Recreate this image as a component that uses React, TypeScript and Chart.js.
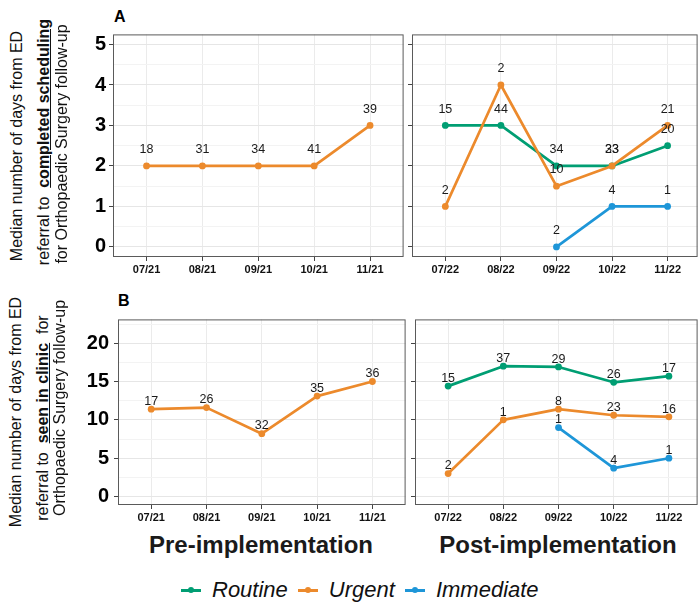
import React, { useEffect, useRef } from "react";
import { Chart, registerables } from "chart.js";
Chart.register(...registerables);

const FONT = '"Liberation Sans", Arial, Helvetica, sans-serif';

const preMonths = ["07/21", "08/21", "09/21", "10/21", "11/21"];
const postMonths = ["07/22", "08/22", "09/22", "10/22", "11/22"];

const seriesNames = ["Routine", "Urgent", "Immediate"];
const seriesColors = ["#009E73", "#EC8A2C", "#1E96D8"];

// Panel A: completed scheduling (median days)
const schedPreUrgent = [2, 2, 2, 2, 3];
const schedPreUrgentN = [18, 31, 34, 41, 39];
const schedPostRoutine = [3, 3, 2, 2, 2.5];
const schedPostRoutineN = [15, 44, 34, 33, 20];
const schedPostUrgent = [1, 4, 1.5, 2, 3];
const schedPostUrgentN = [2, 2, 10, 23, 21];
const schedPostImmediate = [null, null, 0, 1, 1];
const schedPostImmediateN = [null, null, 2, 4, 1];

// Panel B: seen in clinic (median days)
const clinicPreUrgent = [11.4, 11.6, 8.2, 13.1, 15];
const clinicPreUrgentN = [17, 26, 32, 35, 36];
const clinicPostRoutine = [14.4, 17, 16.9, 14.9, 15.7];
const clinicPostRoutineN = [15, 37, 29, 26, 17];
const clinicPostUrgent = [3, 10, 11.4, 10.6, 10.4];
const clinicPostUrgentN = [2, 1, 8, 23, 16];
const clinicPostImmediate = [null, null, 9, 3.7, 5];
const clinicPostImmediateN = [null, null, 1, 4, 1];

const schedMajorTicks = [0, 1, 2, 3, 4, 5];
const schedMinorTicks = [0.5, 1.5, 2.5, 3.5, 4.5];
const clinicMajorTicks = [0, 5, 10, 15, 20];
const clinicMinorTicks = [2.5, 7.5, 12.5, 17.5, 22.5];

type Series = { idx: number; values: (number | null)[]; counts: (number | null)[] };

type PanelProps = {
  months: string[];
  series: Series[];
  yMin: number;
  yMax: number;
  major: number[];
  minor: number[];
  nudge: number;
  left: number;
  top: number;
  right: number;
  bottom: number;
  xMax: number;
  yAxisWidth: number;
  showYLabels: boolean;
  yPad: number;
};

const PAD_T = 2;
const PAD_R = 2;
const X_AXIS_H = 26;

function Panel(p: PanelProps) {
  const ref = useRef<HTMLCanvasElement | null>(null);
  const cw = p.right - p.left + p.yAxisWidth + PAD_R;
  const ch = p.bottom - p.top + PAD_T + X_AXIS_H;
  useEffect(() => {
    if (!ref.current) return;
    const isMajor = (v: number) => p.major.some((m) => Math.abs(m - v) < 1e-9);
    const allY = [...p.major, ...p.minor].sort((a, b) => a - b);
    const datasets = p.series.map((s) => ({
      label: seriesNames[s.idx],
      data: s.values
        .map((v, i) => (v == null ? null : { x: i + 1, y: v }))
        .filter((d) => d !== null),
      borderColor: seriesColors[s.idx],
      backgroundColor: seriesColors[s.idx],
      borderWidth: 2.7,
      pointRadius: 3.4,
      pointHoverRadius: 3.4,
      pointBorderWidth: 0,
      borderJoinStyle: "round" as const,
      borderCapStyle: "round" as const,
      tension: 0,
      order: 3 - s.idx,
    }));
    const decor = {
      id: "decor",
      afterDatasetsDraw(chart: any) {
        const { ctx, chartArea: a, scales } = chart;
        ctx.save();
        ctx.strokeStyle = "#5a5a5a";
        ctx.lineWidth = 1;
        ctx.strokeRect(a.left + 0.5, a.top + 0.5, a.right - a.left - 1, a.bottom - a.top - 1);
        ctx.font = `12.5px ${FONT}`;
        ctx.fillStyle = "#1a1a1a";
        ctx.textAlign = "center";
        ctx.textBaseline = "middle";
        p.series.forEach((s) => {
          s.values.forEach((v, i) => {
            if (v == null || s.counts[i] == null) return;
            const x = scales.x.getPixelForValue(i + 1);
            const y = scales.y.getPixelForValue(v + p.nudge);
            ctx.fillText(String(s.counts[i]), x, y);
          });
        });
        ctx.restore();
      },
    };
    const chart = new Chart(ref.current, {
      type: "line",
      data: { datasets: datasets as any },
      plugins: [decor],
      options: {
        animation: false,
        responsive: false,
        devicePixelRatio: 1,
        events: [],
        layout: { padding: { top: PAD_T, right: PAD_R, left: 0, bottom: 0 } },
        plugins: { legend: { display: false }, tooltip: { enabled: false } },
        scales: {
          x: {
            type: "linear",
            min: 0.4,
            max: p.xMax,
            afterBuildTicks: (s: any) => {
              s.ticks = p.months.map((_, i) => ({ value: i + 1 }));
            },
            afterFit: (s: any) => {
              s.height = X_AXIS_H;
              s.paddingLeft = 0;
              s.paddingRight = 0;
              s.paddingTop = 0;
              s.paddingBottom = 0;
            },
            ticks: {
              autoSkip: false,
              maxRotation: 0,
              padding: 2,
              color: "#111",
              font: { family: FONT, size: 11, weight: "bold" },
              callback: (v: any) => p.months[Math.round(Number(v)) - 1],
            },
            grid: {
              color: "#EBEBEB",
              lineWidth: 1,
              drawTicks: true,
              tickLength: 4,
              tickColor: "#444",
              tickWidth: 1,
            },
            border: { display: false },
          },
          y: {
            type: "linear",
            min: p.yMin,
            max: p.yMax,
            afterBuildTicks: (s: any) => {
              s.ticks = allY.map((v) => ({ value: v }));
            },
            afterFit: (s: any) => {
              s.width = p.yAxisWidth;
              s.paddingLeft = 0;
              s.paddingRight = 0;
              s.paddingTop = 0;
              s.paddingBottom = 0;
            },
            ticks: {
              autoSkip: false,
              padding: p.yPad,
              color: "#000",
              font: { family: FONT, size: 20, weight: "bold" },
              callback: (v: any) => (p.showYLabels && isMajor(Number(v)) ? String(v) : ""),
            },
            grid: {
              color: (c: any) => (isMajor(c.tick.value) ? "#E6E6E6" : "#F3F3F3"),
              lineWidth: 1,
              drawTicks: true,
              tickLength: 4,
              tickColor: (c: any) => (isMajor(c.tick.value) ? "#444" : "rgba(0,0,0,0)"),
              tickWidth: 1,
            },
            border: { display: false },
          },
        },
      } as any,
    });
    return () => chart.destroy();
  }, []);
  return (
    <canvas
      ref={ref}
      width={cw}
      height={ch}
      style={{
        position: "absolute",
        left: p.left - p.yAxisWidth,
        top: p.top - PAD_T,
        width: cw,
        height: ch,
      }}
    />
  );
}

function YTitle({ x, y, children }: { x: number; y: number; children: any }) {
  return (
    <div
      style={{
        position: "absolute",
        left: x,
        top: y,
        transform: "translate(-50%, -50%) rotate(-90deg)",
        whiteSpace: "pre",
        font: `16px ${FONT}`,
        lineHeight: "18px",
        color: "#111",
      }}
    >
      {children}
    </div>
  );
}

function LegendItem({ idx }: { idx: number }) {
  const c = seriesColors[idx];
  return (
    <div style={{ display: "flex", alignItems: "center", marginRight: 10 }}>
      <div style={{ position: "relative", width: 20, height: 22, marginRight: 11 }}>
        <div style={{ position: "absolute", left: 0, top: 10, width: 20, height: 2.5, background: c }} />
        <div
          style={{
            position: "absolute",
            left: 7,
            top: 8,
            width: 6,
            height: 6,
            borderRadius: 3,
            background: c,
          }}
        />
      </div>
      <span style={{ font: `italic 22px ${FONT}`, lineHeight: "22px", color: "#111" }}>
        {seriesNames[idx]}
      </span>
    </div>
  );
}

export default function App() {
  const schedPre: Series[] = [{ idx: 1, values: schedPreUrgent, counts: schedPreUrgentN }];
  const schedPost: Series[] = [
    { idx: 0, values: schedPostRoutine, counts: schedPostRoutineN },
    { idx: 1, values: schedPostUrgent, counts: schedPostUrgentN },
    { idx: 2, values: schedPostImmediate, counts: schedPostImmediateN },
  ];
  const clinicPre: Series[] = [{ idx: 1, values: clinicPreUrgent, counts: clinicPreUrgentN }];
  const clinicPost: Series[] = [
    { idx: 0, values: clinicPostRoutine, counts: clinicPostRoutineN },
    { idx: 1, values: clinicPostUrgent, counts: clinicPostUrgentN },
    { idx: 2, values: clinicPostImmediate, counts: clinicPostImmediateN },
  ];
  const schedCommon = { yMin: -0.25, yMax: 5.25, major: schedMajorTicks, minor: schedMinorTicks, nudge: 0.4, top: 33, bottom: 257 };
  const clinicCommon = { yMin: -1.1, yMax: 23.1, major: clinicMajorTicks, minor: clinicMinorTicks, nudge: 1.0, top: 318, bottom: 505 };
  return (
    <div
      style={{
        position: "absolute",
        left: 0,
        top: 0,
        width: 699,
        height: 603,
        overflow: "hidden",
        background: "#fff",
        fontFamily: FONT,
      }}
    >
      <Panel {...schedCommon} months={preMonths} series={schedPre} left={113} right={405} xMax={5.6} yAxisWidth={53} showYLabels={true} yPad={3} />
      <Panel {...schedCommon} months={postMonths} series={schedPost} left={412} right={699} xMax={5.54} yAxisWidth={5} showYLabels={false} yPad={0} />
      <Panel {...clinicCommon} months={preMonths} series={clinicPre} left={118} right={407} xMax={5.6} yAxisWidth={58} showYLabels={true} yPad={5} />
      <Panel {...clinicCommon} months={postMonths} series={clinicPost} left={415} right={699} xMax={5.52} yAxisWidth={5} showYLabels={false} yPad={0} />

      <div style={{ position: "absolute", left: 114, top: 8, font: `bold 16px ${FONT}`, lineHeight: "18px", color: "#000" }}>A</div>
      <div style={{ position: "absolute", left: 118, top: 292, font: `bold 16px ${FONT}`, lineHeight: "18px", color: "#000" }}>B</div>

      <YTitle x={17} y={146}>Median number of days from ED</YTitle>
      <YTitle x={44} y={142}>
        {"referral to  "}
        <span style={{ fontWeight: "bold", textDecoration: "underline" }}>completed scheduling</span>
      </YTitle>
      <YTitle x={62} y={144}>for Orthopaedic Surgery follow-up</YTitle>

      <YTitle x={16} y={412}>Median number of days from ED</YTitle>
      <YTitle x={43} y={418}>
        {"referral to  "}
        <span style={{ fontWeight: "bold", textDecoration: "underline" }}>seen in clinic</span>
        {"  for"}
      </YTitle>
      <YTitle x={60} y={408}>Orthopaedic Surgery follow-up</YTitle>

      <div style={{ position: "absolute", left: 261, top: 533, transform: "translateX(-50%)", font: `bold 24px ${FONT}`, lineHeight: "24px", color: "#1a1a1a", whiteSpace: "nowrap" }}>
        Pre-implementation
      </div>
      <div style={{ position: "absolute", left: 558, top: 533, transform: "translateX(-50%)", font: `bold 24px ${FONT}`, lineHeight: "24px", color: "#1a1a1a", whiteSpace: "nowrap" }}>
        Post-implementation
      </div>

      <div style={{ position: "absolute", left: 181, top: 579, display: "flex", alignItems: "center" }}>
        <LegendItem idx={0} />
        <LegendItem idx={1} />
        <LegendItem idx={2} />
      </div>
    </div>
  );
}
